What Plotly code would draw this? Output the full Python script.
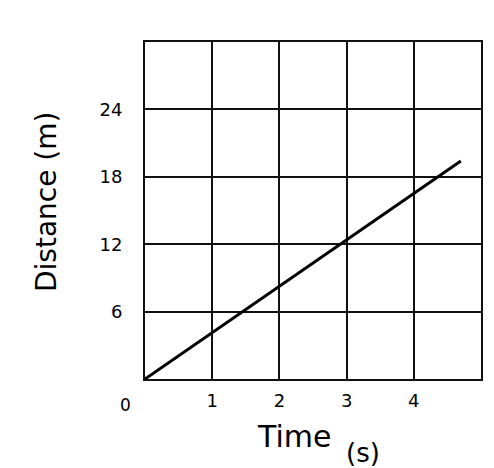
import plotly.graph_objects as go

# Data
time_s = [0, 4.7]
distance_m = [0, 19.4]
x_tick_vals = [1, 2, 3, 4]
x_tick_text = ["1", "2", "3", "4"]
y_tick_vals = [6, 12, 18, 24]
y_tick_text = ["6", "12", "18", "24"]

fig = go.Figure()
fig.add_trace(go.Scatter(x=time_s, y=distance_m, mode="lines",
                         line=dict(color="black", width=3), showlegend=False,
                         hoverinfo="skip"))

axis_common = dict(showgrid=True, gridcolor="#111", gridwidth=2,
                   showline=True, linecolor="#111", linewidth=2, mirror=True,
                   zeroline=False, ticks="", fixedrange=True,
                   tickfont=dict(family="DejaVu Sans", size=18, color="black"))

fig.update_xaxes(range=[0, 5], tickvals=x_tick_vals, ticktext=x_tick_text,
                 ticklabelstandoff=4, **axis_common)
fig.update_yaxes(range=[0, 30], tickvals=y_tick_vals, ticktext=y_tick_text,
                 ticklabelstandoff=17, **axis_common)

W, H = 494, 468
l, r, t, b = 145, 13, 42, 89
pw, ph = W - l - r, H - t - b
def px(xp):
    return (xp - l) / pw
def py(yp):
    return (H - b - yp) / ph

labels = [("0", 125, 405, 17, 0), ("Time", 294, 436, 30, 0),
          ("(s)", 363, 453, 26, 0), ("Distance (m)", 46, 202, 28, -90)]
anns = []
for txt, xp, yp, sz, ang in labels:
    anns.append(dict(text=txt, x=px(xp), y=py(yp), xref="paper", yref="paper",
                     showarrow=False, xanchor="center", yanchor="middle",
                     textangle=ang,
                     font=dict(family="DejaVu Sans", size=sz, color="black")))

fig.update_layout(
    width=W, height=H,
    margin=dict(l=l, r=r, t=t, b=b, autoexpand=False),
    plot_bgcolor="white", paper_bgcolor="white",
    annotations=anns,
)

fig.write_html("out.html", config={"displayModeBar": False},
               post_script="document.body.style.margin='0';")
